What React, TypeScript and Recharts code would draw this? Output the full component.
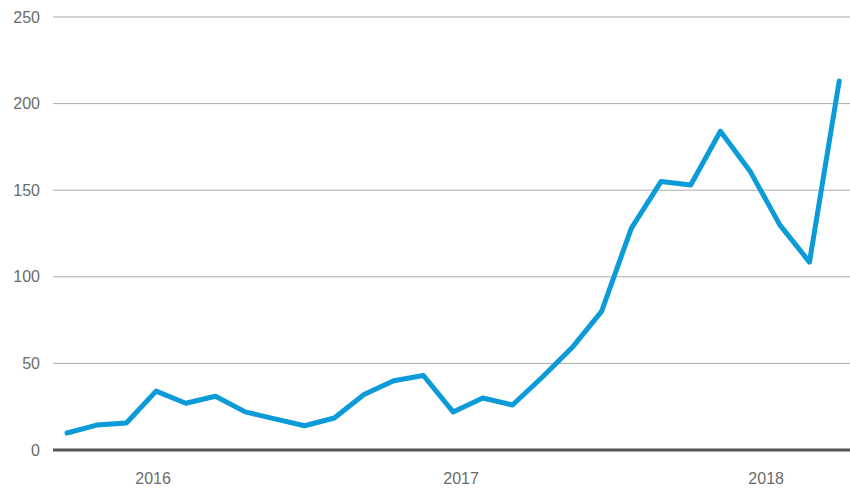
import React from 'react';
import { LineChart, Line, XAxis, YAxis, CartesianGrid } from 'recharts';

const values = [
  9.8, 14.4, 15.6, 34, 27, 31, 22, 18, 14, 18.5, 32, 40, 43, 22, 30, 26,
  42, 59, 80, 128, 155, 153, 184, 161, 130, 108.5, 213,
];
const yearLabels = ['2016', '2017', '2018'];
const yearTicks = [2.9, 13.27, 23.54];
const yTicks = [0, 50, 100, 150, 200, 250];

const data = values.map((v, i) => ({ idx: i, value: v }));

const App: React.FC = () => {
  const yearFmt = (v: number) => {
    const i = yearTicks.indexOf(v);
    return i >= 0 ? yearLabels[i] : '';
  };

  return (
    <div style={{ position: 'absolute', left: 0, top: 0, fontFamily: 'Arial, "Liberation Sans", sans-serif' }}>
      <LineChart
        width={850}
        height={490}
        data={data}
        margin={{ top: 17, right: 0, left: 0, bottom: 0 }}
      >
        <CartesianGrid vertical={false} stroke="#aaaaaa" strokeWidth={1} />
        <XAxis
          dataKey="idx"
          type="number"
          domain={[-0.471, 26.364]}
          ticks={yearTicks}
          tickFormatter={yearFmt}
          height={40}
          tickLine={false}
          tickSize={0}
          tickMargin={23}
          axisLine={{ stroke: '#555555', strokeWidth: 3 }}
          tick={{ fill: '#6b6b6b', fontSize: 16 }}
          allowDataOverflow
        />
        <YAxis
          domain={[0, 250]}
          ticks={yTicks}
          width={53}
          axisLine={false}
          tickLine={false}
          tickSize={0}
          tickMargin={13}
          tick={{ fill: '#6b6b6b', fontSize: 16 }}
        />
        <Line
          type="linear"
          dataKey="value"
          stroke="#0a9bd8"
          strokeWidth={5}
          strokeLinecap="round"
          strokeLinejoin="round"
          dot={false}
          isAnimationActive={false}
        />
      </LineChart>
    </div>
  );
};

export default App;
